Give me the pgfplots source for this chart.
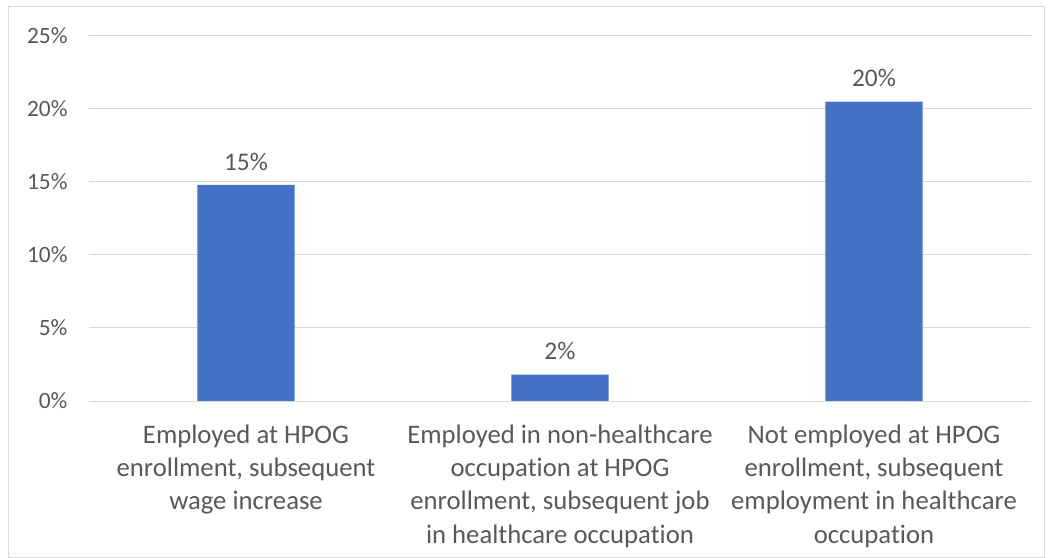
\documentclass[border=0pt]{standalone}
\usepackage{pgfplots}
\pgfplotsset{compat=1.18}
\usepackage{fontspec}
\setmainfont{Carlito}[Ligatures=CommonOff]
\definecolor{barblue}{HTML}{4472C4}
\definecolor{txtgray}{HTML}{595959}
\definecolor{gridgray}{HTML}{D9D9D9}
\begin{document}
\begin{tikzpicture}
\fill[white] (0bp,0bp) rectangle (1048bp,558bp);
\draw[gridgray, line width=1bp] (8.5bp,0.5bp) rectangle (1044.5bp,551bp);
\begin{axis}[
  at={(89bp,157bp)}, anchor=south west,
  scale only axis, width=942bp, height=365bp,
  xmin=-0.5, xmax=2.5, ymin=0, ymax=25,
  ytick={0,5,10,15,20,25},
  yticklabel={\pgfmathprintnumber{\tick}\%},
  /pgf/number format/assume math mode=true,
  ymajorgrids, grid style={gridgray, line width=1bp},
  axis x line*=bottom, axis y line*=left,
  x axis line style={gridgray, line width=1bp, -},
  y axis line style={draw=none},
  major tick length=0pt,
  xtick={0,1,2},
  xticklabels={{Employed at HPOG\\enrollment, subsequent\\wage increase},
               {Employed in non-healthcare\\occupation at HPOG\\enrollment, subsequent job\\in healthcare occupation},
               {Not employed at HPOG\\enrollment, subsequent\\employment in healthcare\\occupation}},
  xticklabel style={align=center, font=\fontsize{26.8}{33.5}\selectfont, text=txtgray, yshift=-20bp, anchor=north},
  yticklabel style={font=\fontsize{23.5}{26}\selectfont, text=txtgray, xshift=-18bp},
  ybar, bar width=0.31,
  nodes near coords={\pgfmathprintnumber{\pgfplotspointmeta}\%},
  point meta=explicit,
  every node near coord/.append style={font=\fontsize{25.5}{28}\selectfont, text=txtgray, yshift=11bp},
]
\addplot[fill=barblue, draw=none] coordinates {(0,14.8) [15] (1,1.8) [2] (2,20.5) [20]};
\end{axis}
\end{tikzpicture}
\end{document}
